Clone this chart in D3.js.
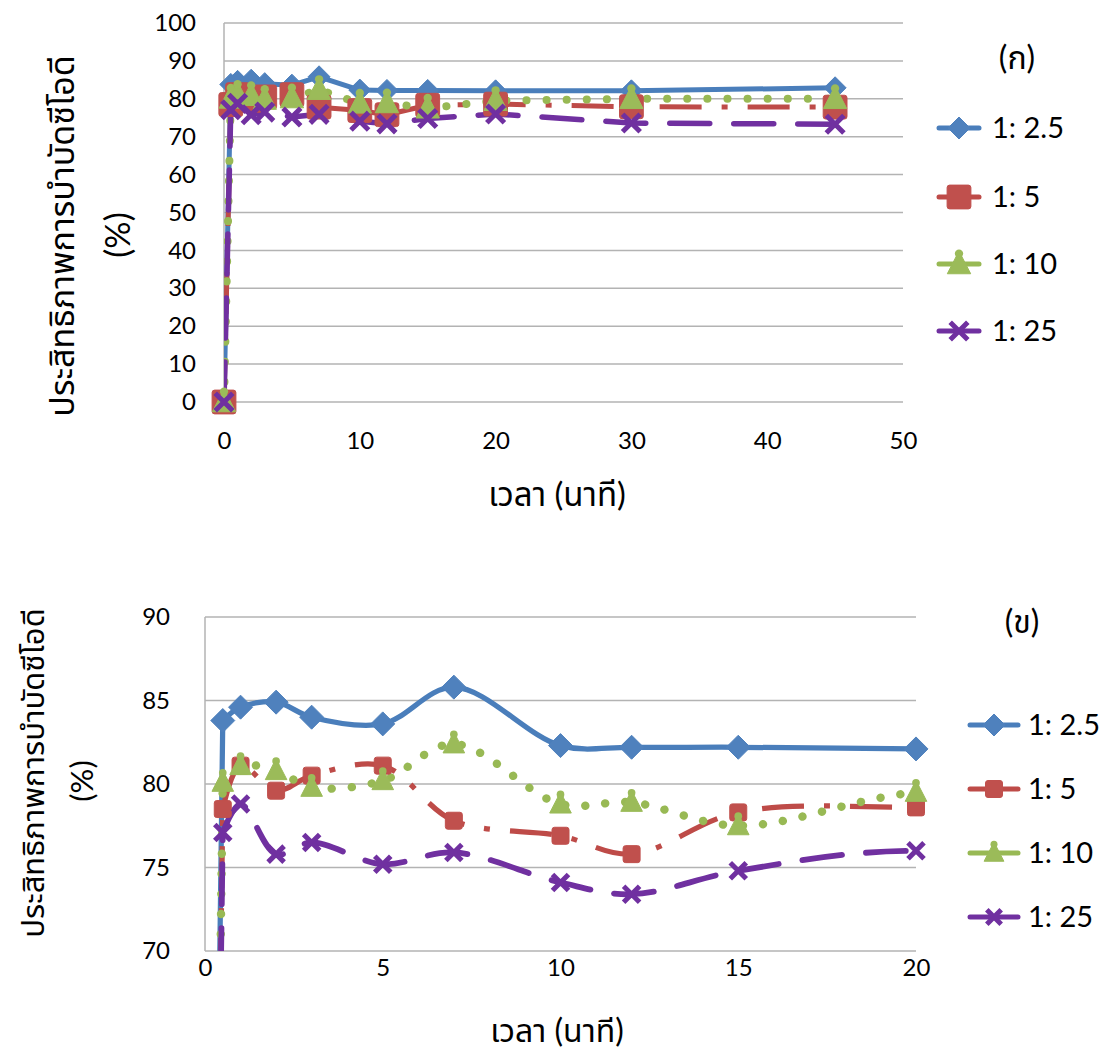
<!DOCTYPE html>
<html>
<head>
<meta charset="utf-8">
<script src="https://cdn.jsdelivr.net/npm/d3@7"></script>
<style>
  html, body { margin: 0; padding: 0; background: #fff; }
  svg { display: block; }
  text { font-family: "Lato", "Noto Sans Thai", "Noto Sans", "DejaVu Sans", sans-serif; fill: #000; }
</style>
</head>
<body>
<svg id="chart" width="1103" height="1052"></svg>
<script>
// ---- data ----
const timeMin = [0, 0.5, 1, 2, 3, 5, 7, 10, 12, 15, 20, 30, 45];
const seriesNames = ["1: 2.5", "1: 5", "1: 10", "1: 25"];
const ratio2_5 = [0, 83.8, 84.6, 84.9, 84.0, 83.6, 85.8, 82.3, 82.2, 82.2, 82.1, 82.1, 82.9];
const ratio5   = [0, 78.5, 81.1, 79.6, 80.5, 81.1, 77.8, 76.9, 75.8, 78.3, 78.6, 77.9, 77.8];
const ratio10  = [0, 80.1, 81.1, 80.8, 79.8, 80.2, 82.4, 78.8, 78.9, 77.5, 79.5, 80.0, 80.0];
const ratio25  = [0, 77.1, 78.8, 75.8, 76.5, 75.2, 75.9, 74.1, 73.4, 74.8, 76.0, 73.6, 73.3];
const topXTicks = [0, 10, 20, 30, 40, 50];
const topYTicks = [0, 10, 20, 30, 40, 50, 60, 70, 80, 90, 100];
const botXTicks = [0, 5, 10, 15, 20];
const botYTicks = [70, 75, 80, 85, 90];
const yTitle = "ประสิทธิภาพการบำบัดซีโอดี";
const yTitle2 = "(%)";
const xTitle = "เวลา (นาที)";
const panelLabels = ["(ก)", "(ข)"];

const allSeries = [ratio2_5, ratio5, ratio10, ratio25];

const styles = [
  { color: "#4A7EBB", fill: "#4F81BD", dash: null, width: 5, marker: "diamond", cap: "round" },
  { color: "#BE4B48", fill: "#C0504D", dash: "42,20,6,20", width: 5, marker: "square", cap: "butt" },
  { color: "#98B954", fill: "#9BBB59", dash: "0.1,20", width: 8, marker: "triangle", cap: "round" },
  { color: "#7030A0", fill: "#7030A0", dash: "40,24", width: 5.5, marker: "cross", cap: "round" }
];

const svg = d3.select("#chart");

function drawMarker(g, type, cx, cy, size, st) {
  if (type === "diamond") {
    const s = size / 2;
    g.append("path").attr("d", `M${cx},${cy - s}L${cx + s},${cy}L${cx},${cy + s}L${cx - s},${cy}Z`)
      .attr("fill", st.fill).attr("stroke", st.fill).attr("stroke-width", 1);
  } else if (type === "square") {
    const s = size * 0.85;
    g.append("rect").attr("x", cx - s / 2).attr("y", cy - s / 2).attr("width", s).attr("height", s)
      .attr("rx", 2.5).attr("fill", st.fill).attr("stroke", st.fill).attr("stroke-width", 1);
  } else if (type === "triangle") {
    const s = size / 2;
    g.append("path").attr("d", `M${cx},${cy - s}L${cx + s * 0.9},${cy + s * 0.75}L${cx - s * 0.9},${cy + s * 0.75}Z`)
      .attr("fill", st.fill).attr("stroke", st.fill).attr("stroke-width", 1);
    g.append("circle").attr("cx", cx).attr("cy", cy - s * 0.8).attr("r", s * 0.32).attr("fill", st.fill);
  } else if (type === "cross") {
    const s = size * 0.4;
    g.append("path").attr("d", `M${cx - s},${cy - s}L${cx + s},${cy + s}M${cx + s},${cy - s}L${cx - s},${cy + s}`)
      .attr("stroke", st.fill).attr("stroke-width", 5).attr("stroke-linecap", "butt").attr("fill", "none");
  }
}

function drawChart(cfg) {
  const x = d3.scaleLinear().domain(cfg.xDomain).range([cfg.left, cfg.right]);
  const y = d3.scaleLinear().domain(cfg.yDomain).range([cfg.bottom, cfg.top]);
  const g = svg.append("g");

  // gridlines
  g.append("g").selectAll("line").data(cfg.yTicks).join("line")
    .attr("x1", cfg.left).attr("x2", cfg.right)
    .attr("y1", d => y(d)).attr("y2", d => y(d))
    .attr("stroke", "#B3B3B3").attr("stroke-width", 1.5);
  // left axis line
  g.append("line").attr("x1", cfg.left).attr("x2", cfg.left)
    .attr("y1", cfg.top).attr("y2", cfg.bottom)
    .attr("stroke", "#B3B3B3").attr("stroke-width", 1.5);

  // y axis tick labels
  const yAxis = d3.axisLeft(y).tickValues(cfg.yTicks).tickSize(0).tickPadding(cfg.yPad);
  const ya = g.append("g").attr("transform", `translate(${cfg.left},0)`).call(yAxis);
  ya.select(".domain").remove();
  ya.selectAll("text").style("font-size", cfg.tickFont + "px").attr("fill", "#000");

  // x axis tick labels
  const xAxis = d3.axisBottom(x).tickValues(cfg.xTicks).tickSize(0).tickPadding(cfg.xPad);
  const xa = g.append("g").attr("transform", `translate(0,${cfg.bottom})`).call(xAxis);
  xa.select(".domain").remove();
  xa.selectAll("text").style("font-size", cfg.tickFont + "px").attr("fill", "#000");

  // clip
  const clipId = "clip" + cfg.id;
  svg.append("clipPath").attr("id", clipId).append("rect")
    .attr("x", cfg.left).attr("y", cfg.top - 30)
    .attr("width", cfg.right - cfg.left).attr("height", cfg.bottom - cfg.top + 30);

  const straight = d3.line().x(d => x(d[0])).y(d => y(d[1]));
  const smooth = d3.line().x(d => x(d[0])).y(d => y(d[1]))
    .curve(cfg.smooth ? d3.curveCatmullRom.alpha(0.5) : d3.curveLinear);

  const linesG = g.append("g").attr("clip-path", `url(#${clipId})`);
  const markG = g.append("g");

  allSeries.forEach((vals, i) => {
    const st = styles[i];
    const pts = timeMin.map((t, k) => [t, vals[k]]);
    // first (start-up) segment is a near-vertical jump, the rest is smoothed
    const parts = [[pts.slice(0, 2), straight], [pts.slice(1), smooth]];
    parts.forEach(([p, gen]) => {
      linesG.append("path").datum(p)
        .attr("d", gen)
        .attr("fill", "none")
        .attr("stroke", st.color)
        .attr("stroke-width", st.width * cfg.lineScale)
        .attr("stroke-linecap", st.cap)
        .attr("stroke-linejoin", "round")
        .attr("stroke-dasharray", st.dash);
    });
  });
  allSeries.forEach((vals, i) => {
    const st = styles[i];
    timeMin.forEach((t, k) => {
      const v = vals[k];
      if (t < cfg.xDomain[0] || t > cfg.xDomain[1] || v < cfg.yDomain[0] || v > cfg.yDomain[1]) return;
      drawMarker(markG, st.marker, x(t), y(v), cfg.markerSize[i], st);
    });
  });

  // axis titles
  g.append("text").attr("x", cfg.xTitleX).attr("y", cfg.xTitleY)
    .attr("text-anchor", "middle").style("font-size", cfg.xTitleFont + "px").text(xTitle);
  g.append("text").attr("transform", `translate(${cfg.yTitleX},${cfg.yTitleCY}) rotate(-90)`)
    .attr("text-anchor", "middle").style("font-size", cfg.yTitleFont + "px").text(yTitle);
  g.append("text").attr("transform", `translate(${cfg.yTitle2X},${cfg.yTitle2CY}) rotate(-90)`)
    .attr("text-anchor", "middle").style("font-size", cfg.yTitleFont + "px").text(yTitle2);

  // panel label
  g.append("text").attr("x", cfg.panelX).attr("y", cfg.panelY)
    .attr("text-anchor", "middle").attr("dy", "0.35em")
    .style("font-size", cfg.panelFont + "px").text(cfg.panel);

  // legend
  seriesNames.forEach((name, i) => {
    const st = styles[i];
    const ly = cfg.legendY[i];
    g.append("line").attr("x1", cfg.legendX).attr("x2", cfg.legendX + cfg.legendLen)
      .attr("y1", ly).attr("y2", ly)
      .attr("stroke", st.color).attr("stroke-width", 5).attr("stroke-linecap", "round");
    drawMarker(g, st.marker, cfg.legendX + cfg.legendLen / 2, ly, cfg.legendMarker[i], st);
    g.append("text").attr("x", cfg.legendTextX).attr("y", ly)
      .attr("dy", "0.35em").style("font-size", cfg.legendFont + "px").text(name);
  });
}

drawChart({
  id: "top", xDomain: [0, 50], yDomain: [0, 100],
  left: 224, right: 903, top: 23, bottom: 402,
  xTicks: topXTicks, yTicks: topYTicks, yPad: 28, xPad: 30,
  tickFont: 24, smooth: false, lineScale: 1,
  markerSize: [22, 28, 26, 22],
  xTitleX: 557, xTitleY: 506, xTitleFont: 33,
  yTitleX: 74, yTitleCY: 236, yTitle2X: 130, yTitle2CY: 235, yTitleFont: 34,
  panel: panelLabels[0], panelX: 1017, panelY: 58, panelFont: 32,
  legendX: 939, legendLen: 40, legendTextX: 992, legendFont: 29,
  legendY: [128, 197, 264, 331], legendMarker: [22, 28, 26, 22]
});

drawChart({
  id: "bot", xDomain: [0, 20], yDomain: [70, 90],
  left: 205, right: 916, top: 617, bottom: 951,
  xTicks: botXTicks, yTicks: botYTicks, yPad: 35, xPad: 8,
  tickFont: 24, smooth: true, lineScale: 1.05,
  markerSize: [24, 20, 24, 20],
  xTitleX: 557, xTitleY: 1042, xTitleFont: 32,
  yTitleX: 44, yTitleCY: 773, yTitle2X: 93, yTitle2CY: 781, yTitleFont: 31,
  panel: panelLabels[1], panelX: 1022, panelY: 622, panelFont: 32,
  legendX: 970, legendLen: 48, legendTextX: 1028, legendFont: 29,
  legendY: [725, 789, 853, 917], legendMarker: [22, 20, 22, 18]
});
</script>
</body>
</html>
